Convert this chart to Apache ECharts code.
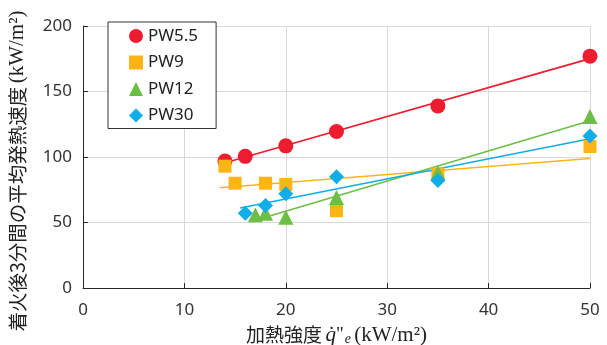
<!DOCTYPE html>
<html>
<head>
<meta charset="utf-8">
<script src="https://cdn.jsdelivr.net/npm/echarts@6/dist/echarts.min.js"></script>
<style>
  html, body { margin: 0; padding: 0; background: #fff; }
  #chart { width: 607px; height: 345px; }
</style>
</head>
<body>
<div id="chart"></div>
<script>
// Heat flux (kW/m2) and mean heat release rate for 3 min after ignition (kW/m2)
const seriesNames = ['PW5.5', 'PW9', 'PW12', 'PW30'];
const pw55X = [14, 16, 20, 25, 35, 50];
const pw55Y = [97, 100.5, 108.5, 119.5, 139, 177];
const pw9X  = [14, 15, 18, 20, 25, 35, 50];
const pw9Y  = [93, 80, 80, 79, 59, 87, 108];
const pw12X = [17, 18, 20, 25, 35, 50];
const pw12Y = [56, 57, 54, 69, 88, 131];
const pw30X = [16, 18, 20, 25, 35, 50];
const pw30Y = [57, 63, 72, 85, 82, 116];

const xTicks = [0, 10, 20, 30, 40, 50];
const yTicks = [0, 50, 100, 150, 200];

const colors = ['#ED1C2E', '#FDB515', '#6DBE45', '#0FAEE8'];
const symbols = ['circle', 'rect', 'triangle', 'diamond'];
const symbolSizes = [15, 13, 15, 15];

const groups = [[pw55X, pw55Y], [pw9X, pw9Y], [pw12X, pw12Y], [pw30X, pw30Y]];

// least-squares trend line, extended half a unit before the first reading
function trend(xs, ys) {
  const n = xs.length;
  const mx = xs.reduce((a, b) => a + b, 0) / n;
  const my = ys.reduce((a, b) => a + b, 0) / n;
  let sxy = 0, sxx = 0;
  for (let i = 0; i < n; i++) { sxy += (xs[i] - mx) * (ys[i] - my); sxx += (xs[i] - mx) ** 2; }
  const k = sxy / sxx, b = my - k * mx;
  const x0 = Math.min(...xs) - 0.5, x1 = Math.max(...xs);
  return [[x0, k * x0 + b], [x1, k * x1 + b]];
}

const series = [];
groups.forEach((g, i) => {
  series.push({
    name: seriesNames[i] + ' trend',
    type: 'line',
    data: trend(g[0], g[1]),
    showSymbol: false,
    symbol: 'none',
    lineStyle: { color: colors[i], width: 1.6 },
    silent: true,
    z: 2
  });
});
groups.forEach((g, i) => {
  series.push({
    name: seriesNames[i],
    type: 'scatter',
    data: g[0].map((x, j) => [x, g[1][j]]),
    symbol: symbols[i],
    symbolSize: symbolSizes[i],
    itemStyle: { color: colors[i], opacity: 1 },
    z: 3 + i
  });
});

const axisColor = '#262626';
const labelFont = { fontFamily: 'Noto Sans', fontSize: 17, color: '#333' };

const chart = echarts.init(document.getElementById('chart'), null, { renderer: 'canvas' });
chart.setOption({
  animation: false,
  backgroundColor: '#fff',
  grid: { left: 83, right: 17, top: 26, bottom: 57, containLabel: false, outerBoundsMode: 'none' },
  legend: {
    data: seriesNames,
    orient: 'vertical',
    left: 108,
    top: 22,
    padding: [4, 18, 3, 21],
    itemGap: 6.5,
    itemWidth: 14,
    itemHeight: 14,
    backgroundColor: '#fff',
    borderColor: '#333',
    borderWidth: 1,
    textStyle: { fontFamily: 'Noto Sans', fontSize: 17, color: '#222', lineHeight: 20 }
  },
  xAxis: {
    type: 'value',
    min: xTicks[0],
    max: xTicks[xTicks.length - 1],
    interval: 10,
    axisLine: { show: true, lineStyle: { color: axisColor, width: 1 } },
    axisTick: { show: true, inside: true, length: 5, lineStyle: { color: axisColor } },
    axisLabel: Object.assign({ margin: 14 }, labelFont),
    splitLine: { show: true, lineStyle: { color: '#d9d9d9', width: 1 } },
    name: '{jp|加熱強度} {q|q̇}{s|"}{sub|e} {u|(kW/m²)}',
    nameLocation: 'middle',
    nameGap: 36,
    nameTextStyle: {
      rich: {
        jp: { fontFamily: 'Noto Sans CJK JP', fontSize: 19, color: '#222' },
        q: { fontFamily: 'Liberation Serif', fontStyle: 'italic', fontSize: 21, color: '#222' },
        s: { fontFamily: 'Liberation Serif', fontSize: 19, color: '#222' },
        sub: { fontFamily: 'Liberation Serif', fontStyle: 'italic', fontSize: 14, color: '#222', padding: [8, 0, 0, 1] },
        u: { fontFamily: 'Liberation Serif', fontSize: 21, color: '#222' }
      }
    }
  },
  yAxis: {
    type: 'value',
    min: yTicks[0],
    max: yTicks[yTicks.length - 1],
    interval: 50,
    axisLine: { show: true, lineStyle: { color: axisColor, width: 1 } },
    axisTick: { show: true, inside: true, length: 5, lineStyle: { color: axisColor } },
    axisLabel: Object.assign({ margin: 11 }, labelFont),
    splitLine: { show: true, lineStyle: { color: '#d9d9d9', width: 1 } },
    name: '{jp|着火後3分間の平均発熱速度} {u|(kW/m²)}',
    nameLocation: 'middle',
    nameRotate: 90,
    nameGap: 55,
    nameTextStyle: {
      padding: [0, 28, 0, 0],
      rich: {
        jp: { fontFamily: 'Noto Sans CJK JP', fontSize: 19.5, color: '#222' },
        u: { fontFamily: 'Liberation Serif', fontSize: 21, color: '#222' }
      }
    }
  },
  series: series
});
</script>
</body>
</html>
